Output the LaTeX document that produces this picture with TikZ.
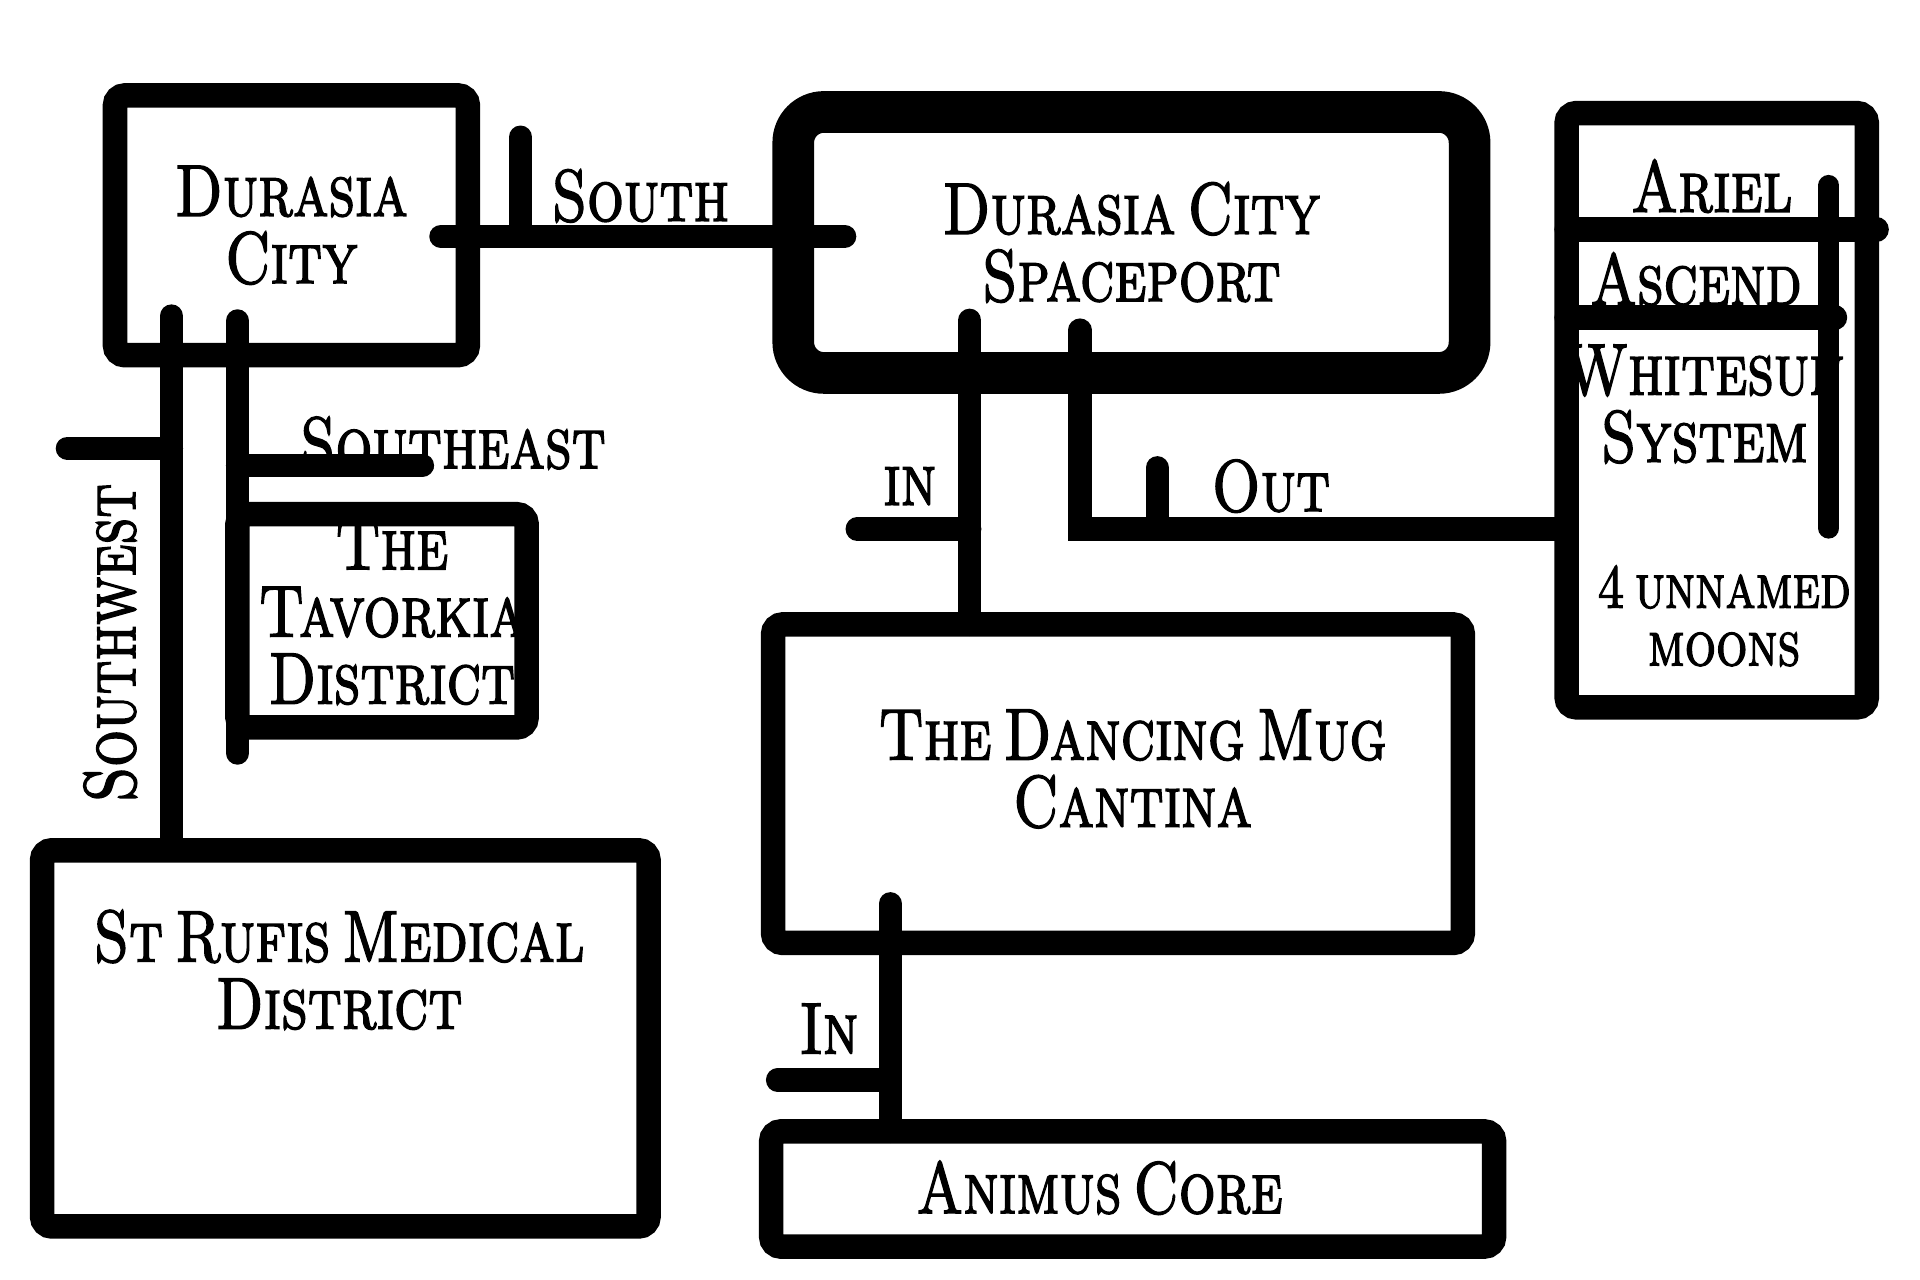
\documentclass[tikz,border=0pt]{standalone}
\usepackage{fontspec}
\usepackage{tikz}
\newfontfamily\mapfont{lmromancaps10-regular.otf}[FakeStretch=0.79,FakeBold=2,WordSpace=0.55]

\begin{document}
\begin{tikzpicture}[x=0.01cm, y=-0.01cm,
    place/.style={draw,line width=0.2cm,rounded corners=0.08cm,inner sep=0pt,
        outer sep=0pt,align=center,font=\mapfont\fontsize{17}{15.6}\selectfont},
    road/.style={line width=0.19cm,line cap=round},
    tag/.style={inner sep=0pt,align=center,font=\mapfont\fontsize{17}{15.6}\selectfont}
]
\useasboundingbox (0,0) rectangle (1568,1045);
% places
\node[place,minimum width=2.88cm,minimum height=2.12cm] (durasia) at (238,184)
    {Durasia\\City};
\node[place,line width=0.34cm,rounded corners=0.25cm,minimum width=5.52cm,
    minimum height=2.13cm] (spaceport) at (924,198) {Durasia City\\Spaceport};
\node[place,minimum width=2.45cm,minimum height=4.85cm] (whitesun) at (1402,335) {};
\node[place,minimum width=5.63cm,minimum height=2.6cm] (mug) at (913,640) {};
\node[place,minimum width=5.9cm,minimum height=0.94cm] (animus) at (925,971) {};
\node[place,minimum width=2.36cm,minimum height=1.74cm] (tavorkia) at (312,507) {};
\node[place,minimum width=4.95cm,minimum height=3.07cm] (rufis) at (282,848) {};
\node[tag] (tavorkianame) at (320,500) {The\\Tavorkia\\District};
\node[tag] (mugname) at (925,628) {The Dancing Mug\\Cantina};
\node[tag] (animusname) at (898,970) {Animus Core};
\node[tag] (rufisname) at (277,792) {St Rufis Medical\\District};

% Whitesun system
\draw[road,line width=0.2cm] ([shift={(0,95)}]whitesun.north west)
    -- ([shift={(8,95)}]whitesun.north east);
\draw[road,line width=0.2cm] ([shift={(0,167)}]whitesun.north west)
    -- ([shift={(-26,167)}]whitesun.north east);
\draw[road,line width=0.17cm] ([shift={(-31,59)}]whitesun.north east)
    -- ([shift={(-31,339)}]whitesun.north east);
\node[tag] (ariel) at (1398,152) {Ariel};
\node[tag] (ascend) at (1385,228) {Ascend};
\node[tag] (whitesunname) at (1392,330) {Whitesun\\System};
\node[tag,font=\mapfont\fontsize{14.5}{13.4}\selectfont] (moons) at (1408,503)
    {4 unnamed\\moons};

% south road
\coordinate (southtick) at (425,193);
\draw[road] ([shift={(-22,9)}]durasia.east) -- ([shift={(42,-5)}]spaceport.west);
\draw[road] (southtick) -- ++(0,-81);
\node[tag] (south) at (523,160) {South};

% spaceport in and out
\coordinate (intop) at ([shift={(-132,-43)}]spaceport.south);
\draw[road] (intop) -- (intop |- mug.north);
\draw[road] (intop |- 0,432) -- ++(-92,0);
\node[tag] (inmug) at (743,397) {in};
\coordinate (outtop) at ([shift={(-42,-35)}]spaceport.south);
\coordinate (outtick) at (945,432);
\draw[road] (outtop) |- (whitesun.west |- outtick);
\draw[road] (outtick) -- ++(0,-50);
\node[tag] (out) at (1038,397) {Out};

% cantina to the core
\coordinate (coretop) at ([shift={(-186,-32)}]mug.south);
\draw[road] (coretop) -- (coretop |- animus.north);
\draw[road] (coretop |- 0,882) -- ++(-92,0);
\node[tag] (incore) at (677,840) {In};

% southeast and southwest
\coordinate (setop) at ([shift={(-44,-28)}]durasia.south);
\draw[road] (setop) -- (setop |- 0,615);
\draw[road] (setop |- 0,380) -- ++(151,0);
\node[tag] (southeast) at (370,362) {Southeast};
\coordinate (swtop) at ([shift={(-98,-32)}]durasia.south);
\draw[road] (swtop) -- (swtop |- rufis.north);
\draw[road] (swtop |- 0,366) -- ++(-85,0);
\node[tag,rotate=90] (southwest) at (90,525) {Southwest};
\end{tikzpicture}
\end{document}
